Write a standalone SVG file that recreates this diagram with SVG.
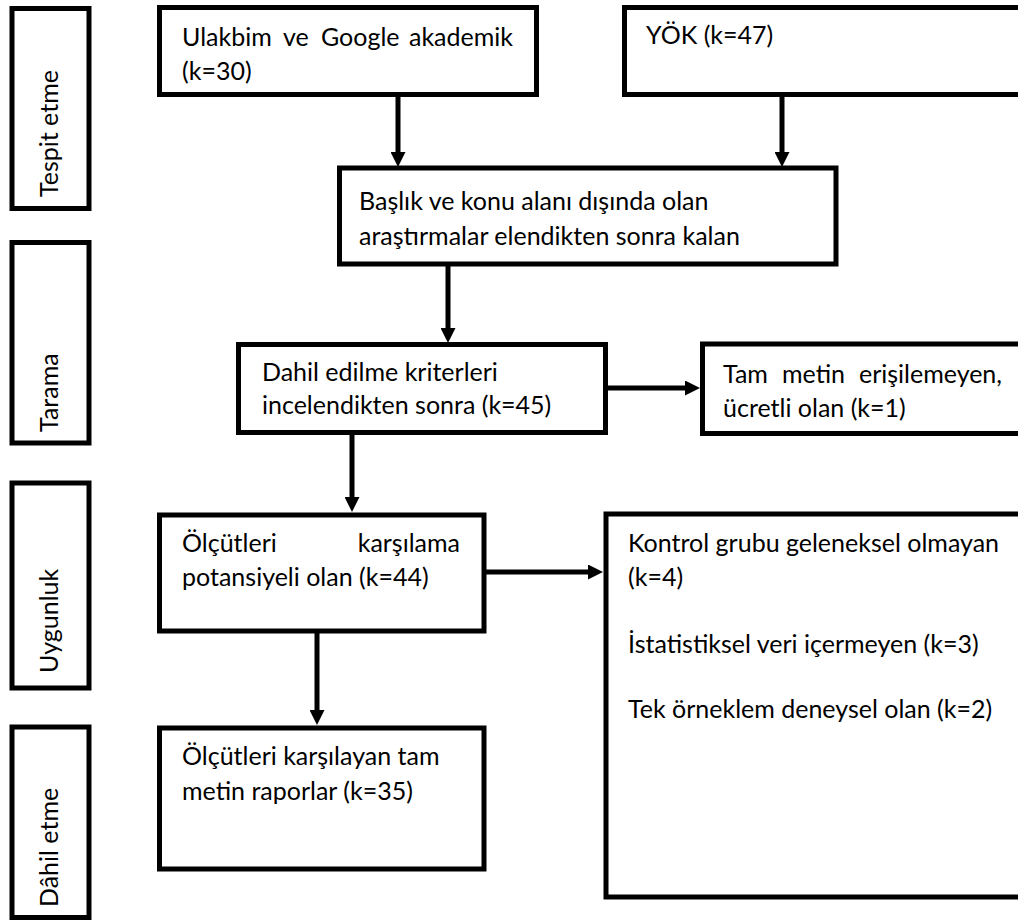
<svg xmlns="http://www.w3.org/2000/svg" width="1018" height="921" viewBox="0 0 1018 921">
<defs>
<marker id="ah" viewBox="0 0 15 15" refX="1" refY="7.5" markerWidth="15" markerHeight="15" markerUnits="userSpaceOnUse" orient="auto"><path d="M0,0 L15,7.5 L0,15 Z" fill="#000"/></marker>
<style>
.box{fill:#fff;stroke:#000;stroke-width:5}
.t{font-family:Lato,"Open Sans","Liberation Sans",sans-serif;font-size:25px;fill:#000}
.e{text-anchor:end}
.c{fill:none;stroke:#000;stroke-width:5;marker-end:url(#ah)}
</style>
</defs>
<rect width="1018" height="921" fill="#fff"/>

<g id="stage-tespit">
<rect class="box" x="12" y="8.5" width="77" height="200"/>
<text class="t" transform="translate(58,197) rotate(-90)">Tespit etme</text>
</g>
<g id="stage-tarama">
<rect class="box" x="12" y="242.5" width="77" height="200.5"/>
<text class="t" transform="translate(58,432) rotate(-90)">Tarama</text>
</g>
<g id="stage-uygunluk">
<rect class="box" x="12" y="483" width="77" height="205"/>
<text class="t" transform="translate(58,673) rotate(-90)">Uygunluk</text>
</g>
<g id="stage-dahil">
<rect class="box" x="12" y="727" width="77" height="190.5"/>
<text class="t" transform="translate(58,907) rotate(-90)">Dâhil etme</text>
</g>

<g id="n-ulakbim">
<rect class="box" x="159.5" y="7.5" width="377" height="87"/>
<text class="t" y="46"><tspan x="182">Ulakbim</tspan> <tspan x="283">ve</tspan> <tspan x="321">Google</tspan></text>
<text class="t e" x="513" y="46">akademik</text>
<text class="t" x="182" y="80">(k=30)</text>
</g>
<g id="n-yok">
<rect class="box" x="624.5" y="7.5" width="420" height="87"/>
<text class="t" x="646" y="44">YÖK (k=47)</text>
</g>
<g id="n-baslik">
<rect class="box" x="339.5" y="168" width="496.5" height="96"/>
<text class="t" x="359" y="210">Başlık ve konu alanı dışında olan</text>
<text class="t" x="359" y="245">araştırmalar elendikten sonra kalan</text>
</g>
<g id="n-dahil">
<rect class="box" x="238.5" y="344.5" width="367" height="88"/>
<text class="t" x="262" y="381">Dahil edilme kriterleri</text>
<text class="t" x="262" y="414">incelendikten sonra (k=45)</text>
</g>
<g id="n-tam">
<rect class="box" x="702.5" y="344" width="400" height="89.5"/>
<text class="t" y="383"><tspan x="723">Tam</tspan> <tspan x="782">metin</tspan></text>
<text class="t e" x="1002" y="383">erişilemeyen,</text>
<text class="t" x="723" y="417">ücretli olan (k=1)</text>
</g>
<g id="n-olcut">
<rect class="box" x="159.5" y="515" width="324.5" height="116"/>
<text class="t" x="182" y="552">Ölçütleri</text>
<text class="t e" x="460" y="552">karşılama</text>
<text class="t" x="182" y="586">potansiyeli olan (k=44)</text>
</g>
<g id="n-exclude">
<rect class="box" x="606" y="514" width="420" height="383"/>
<text class="t" x="628" y="552">Kontrol grubu geleneksel olmayan</text>
<text class="t" x="628" y="586">(k=4)</text>
<text class="t" x="628" y="653">İstatistiksel veri içermeyen (k=3)</text>
<text class="t" x="628" y="718">Tek örneklem deneysel olan (k=2)</text>
</g>
<g id="n-final">
<rect class="box" x="159.5" y="728" width="324.5" height="141"/>
<text class="t" x="182" y="765">Ölçütleri karşılayan tam</text>
<text class="t" x="182" y="800">metin raporlar (k=35)</text>
</g>

<g id="connectors">
<path class="c" d="M398,97 V153"/>
<path class="c" d="M782,97 V153"/>
<path class="c" d="M448,266 V329"/>
<path class="c" d="M608,388 H686"/>
<path class="c" d="M352,435 V498"/>
<path class="c" d="M486,572 H589"/>
<path class="c" d="M317,633 V711"/>
</g>
</svg>
